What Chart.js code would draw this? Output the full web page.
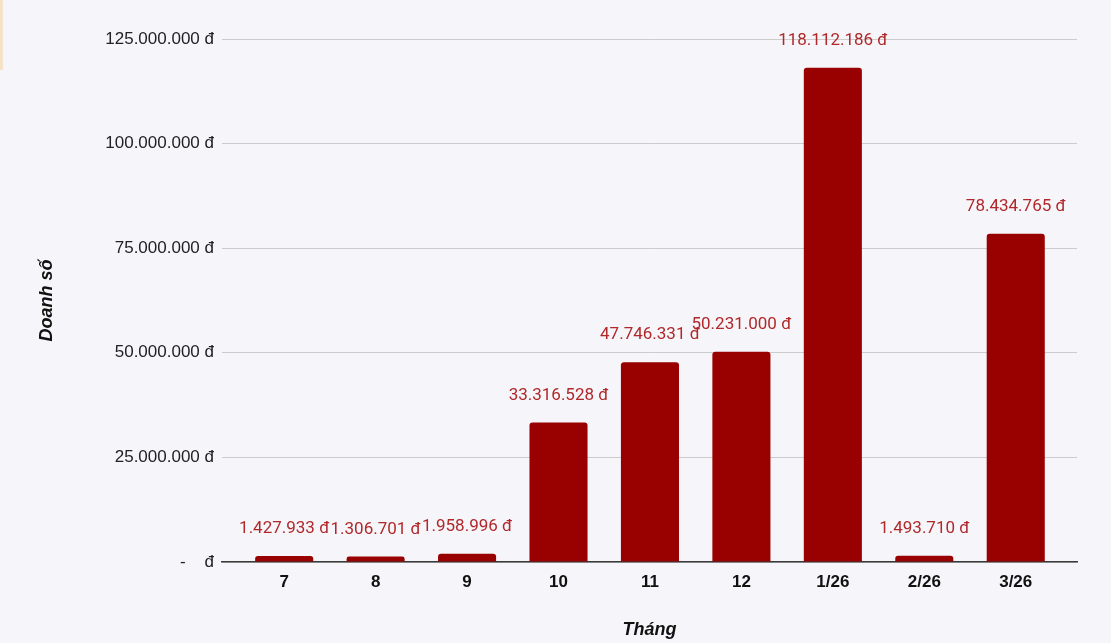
<!DOCTYPE html>
<html>
<head>
<meta charset="utf-8">
<script src="https://cdn.jsdelivr.net/npm/chart.js@4"></script>
<style>
  html, body { margin: 0; padding: 0; background: #f6f6fa; }
  #wrap { position: relative; width: 1111px; height: 643px; }
  #edge { position: absolute; left: 0; top: 0; width: 3px; height: 70px; background: #f3e3c8; }
</style>
</head>
<body>
<div id="wrap">
  <div id="edge"></div>
  <canvas id="chart1" width="1111" height="643"></canvas>
</div>
<script>
// du lieu doc tu hinh
const months = ['7', '8', '9', '10', '11', '12', '1/26', '2/26', '3/26'];
const sales = [1427933, 1306701, 1958996, 33316528, 47746331, 50231000, 118112186, 1493710, 78434765];

function formatDong(v) {
  if (v === 0) return '-    đ';
  return String(Math.round(v)).replace(/\B(?=(\d{3})+(?!\d))/g, '.') + ' đ';
}

// ve nhan gia tri tren moi cot
const valueLabels = {
  id: 'valueLabels',
  afterDatasetsDraw(chart) {
    const ctx = chart.ctx;
    const meta = chart.getDatasetMeta(0);
    ctx.save();
    ctx.font = '17px Roboto';
    ctx.fillStyle = '#b0282a';
    ctx.textAlign = 'center';
    ctx.textBaseline = 'middle';
    meta.data.forEach(function(bar, i) {
      ctx.fillText(formatDong(sales[i]), bar.x, bar.y - 27);
    });
    ctx.restore();
  }
};

let canvas1 = document.getElementById('chart1');
let myChart = new Chart(canvas1, {
  type: 'bar',
  data: {
    datasets: [{
      label: 'Doanh số',
      data: sales.map(function(v, i) { return { x: i, y: v }; }),
      backgroundColor: '#990000',
      borderRadius: 3,
      borderSkipped: 'bottom',
      categoryPercentage: 1,
      barPercentage: 0.635
    }]
  },
  options: {
    responsive: false,
    animation: false,
    layout: { padding: { left: 10, right: 34, top: 39, bottom: 2 } },
    plugins: {
      legend: { display: false },
      tooltip: { enabled: false }
    },
    scales: {
      x: {
        type: 'linear',
        min: -0.68,
        max: 8.67,
        offset: false,
        grid: { display: false, offset: false },
        border: { color: '#3a3a3a', width: 1.5 },
        ticks: {
          stepSize: 1,
          includeBounds: false,
          maxRotation: 0,
          autoSkip: false,
          color: '#111111',
          font: { family: 'Liberation Sans', size: 17, weight: 'bold' },
          padding: 2,
          callback: function(v) { return Number.isInteger(v) && months[v] !== undefined ? months[v] : ''; }
        },
        title: {
          display: true,
          text: 'Tháng',
          color: '#111111',
          font: { family: 'Liberation Sans', size: 18, weight: 'bold', style: 'italic' },
          padding: { top: 0, bottom: 0 }
        },
        afterFit: function(s) { s.height = 79; }
      },
      y: {
        min: 0,
        max: 125000000,
        border: { display: false },
        grid: { color: '#cccccc', drawTicks: false },
        ticks: {
          stepSize: 25000000,
          color: '#222222',
          font: { family: 'Liberation Sans', size: 17 },
          padding: 8,
          callback: function(v) { return formatDong(v); }
        },
        title: {
          display: true,
          text: 'Doanh số',
          color: '#111111',
          font: { family: 'Liberation Sans', size: 18, weight: 'bold', style: 'italic' },
          padding: { top: 26, bottom: 0 }
        },
        afterFit: function(s) { s.width = 212; }
      }
    }
  },
  plugins: [valueLabels]
});
</script>
</body>
</html>
